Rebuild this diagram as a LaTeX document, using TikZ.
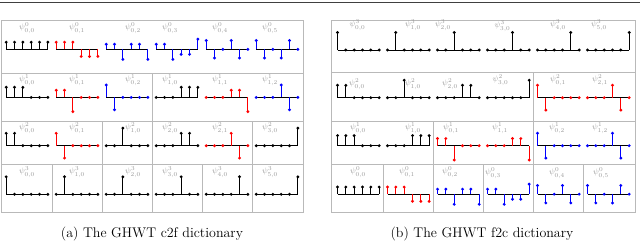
\documentclass[tikz,border=0pt]{standalone}
\usepackage{amsmath}
\tikzset{
  gridln/.style={draw=gray!55, line width=1pt},
  topln/.style={draw=black!75, line width=1pt},
  baseln/.style={line width=1pt, draw=black},
  stemln/.style={line width=0.85pt},
  fnlabel/.style={text=gray!80, font=\fontsize{8}{9}\selectfont, inner sep=0pt},
  captxt/.style={font=\fontsize{14}{16}\selectfont, anchor=base, inner sep=0pt},
}
\newcommand{\stemfn}[4]{%
  \draw[baseln] (#1,#2) -- ++(41.67,0);
  \foreach \v [count=\i from 0] in {#4} {
    \draw[stemln,draw=#3] ({#1+\i*8.333},#2) -- ({#1+\i*8.333},{#2-(\v)*17.5});
    \fill[#3] ({#1+\i*8.333},{#2-(\v)*17.5}) circle[radius=1.6pt];
  }%
}
\def\sA{0.4082}\def\sB{0.8165}\def\sC{0.5774}\def\sD{0.7071}\def\sE{0.2887}
\begin{document}
\begin{tikzpicture}[x=1pt,y=-1pt]
\useasboundingbox (0,0) rectangle (640,241);
\draw[topln] (0,2) -- (640,2);
% ---------------- left panel (c2f) ----------------
\draw[gridln] (1,20) rectangle (303,212);
\draw[gridln] (1,73) -- (303,73) (1,121) -- (303,121) (1,164) -- (303,164);
\draw[gridln] (152,73) -- (152,121);
\draw[gridln] (102,121) -- (102,164) (152,121) -- (152,164) (252,121) -- (252,164);
\foreach \xx in {52,102,152,202,252} \draw[gridln] (\xx,164) -- (\xx,212);
% row 1
\stemfn{6.2}{49.3}{black}{\sA,\sA,\sA,\sA,\sA,\sA}
\stemfn{56.2}{49.3}{red}{\sA,\sA,\sA,-\sA,-\sA,-\sA}
\stemfn{106.2}{49.3}{blue}{\sE,\sE,-\sC,\sE,\sE,-\sC}
\stemfn{156.2}{49.3}{blue}{\sE,\sE,-\sC,-\sE,-\sE,\sC}
\stemfn{206.2}{49.3}{blue}{0.5,-0.5,0,0.5,-0.5,0}
\stemfn{256.2}{49.3}{blue}{0.5,-0.5,0,-0.5,0.5,0}
\node[fnlabel] (a00) at (27,28) {$\psi^{0}_{0,0}$};
\node[fnlabel] (a01) at (77,28) {$\psi^{0}_{0,1}$};
\node[fnlabel] (a02) at (133,28) {$\psi^{0}_{0,2}$};
\node[fnlabel] (a03) at (170,28) {$\psi^{0}_{0,3}$};
\node[fnlabel] (a04) at (220,28) {$\psi^{0}_{0,4}$};
\node[fnlabel] (a05) at (270,28) {$\psi^{0}_{0,5}$};
% row 2
\stemfn{6.2}{97.4}{black}{\sC,\sC,\sC,0,0,0}
\stemfn{56.2}{97.4}{red}{\sA,\sA,-\sB,0,0,0}
\stemfn{106.2}{97.4}{blue}{\sD,-\sD,0,0,0,0}
\stemfn{156.2}{97.4}{black}{0,0,0,\sC,\sC,\sC}
\stemfn{206.2}{97.4}{red}{0,0,0,\sA,\sA,-\sB}
\stemfn{256.2}{97.4}{blue}{0,0,0,\sD,-\sD,0}
\node[fnlabel] (a10) at (27,80) {$\psi^{1}_{0,0}$};
\node[fnlabel] (a11) at (77,80) {$\psi^{1}_{0,1}$};
\node[fnlabel] (a12) at (133,80) {$\psi^{1}_{0,2}$};
\node[fnlabel] (a13) at (170,80) {$\psi^{1}_{1,0}$};
\node[fnlabel] (a14) at (220,80) {$\psi^{1}_{1,1}$};
\node[fnlabel] (a15) at (270,80) {$\psi^{1}_{1,2}$};
% row 3
\stemfn{6.2}{145.7}{black}{\sD,\sD,0,0,0,0}
\stemfn{56.2}{145.7}{red}{\sD,-\sD,0,0,0,0}
\stemfn{106.2}{145.7}{black}{0,0,1,0,0,0}
\stemfn{156.2}{145.7}{black}{0,0,0,\sD,\sD,0}
\stemfn{206.2}{145.7}{red}{0,0,0,\sD,-\sD,0}
\stemfn{256.2}{145.7}{black}{0,0,0,0,0,1}
\node[fnlabel] (a20) at (27,128) {$\psi^{2}_{0,0}$};
\node[fnlabel] (a21) at (77,128) {$\psi^{2}_{0,1}$};
\node[fnlabel] (a22) at (133,128) {$\psi^{2}_{1,0}$};
\node[fnlabel] (a23) at (170,128) {$\psi^{2}_{2,0}$};
\node[fnlabel] (a24) at (220,128) {$\psi^{2}_{2,1}$};
\node[fnlabel] (a25) at (270,128) {$\psi^{2}_{3,0}$};
% row 4
\stemfn{6.2}{194.3}{black}{1,0,0,0,0,0}
\stemfn{56.2}{194.3}{black}{0,1,0,0,0,0}
\stemfn{106.2}{194.3}{black}{0,0,1,0,0,0}
\stemfn{156.2}{194.3}{black}{0,0,0,1,0,0}
\stemfn{206.2}{194.3}{black}{0,0,0,0,1,0}
\stemfn{256.2}{194.3}{black}{0,0,0,0,0,1}
\node[fnlabel] (a30) at (27,172) {$\psi^{3}_{0,0}$};
\node[fnlabel] (a31) at (77,172) {$\psi^{3}_{1,0}$};
\node[fnlabel] (a32) at (133,172) {$\psi^{3}_{2,0}$};
\node[fnlabel] (a33) at (170,172) {$\psi^{3}_{3,0}$};
\node[fnlabel] (a34) at (220,172) {$\psi^{3}_{4,0}$};
\node[fnlabel] (a35) at (270,172) {$\psi^{3}_{5,0}$};
% ---------------- right panel (f2c) ----------------
\draw[gridln] (331,20) rectangle (635,212);
\draw[gridln] (331,72.5) -- (635,72.5) (331,121) -- (635,121) (331,164) -- (635,164);
\draw[gridln] (533,72.5) -- (533,121);
\draw[gridln] (433,121) -- (433,164) (533,121) -- (533,164);
\foreach \xx in {383,433,483,533,583} \draw[gridln] (\xx,164) -- (\xx,212);
% row 1
\stemfn{337.5}{50}{black}{1,0,0,0,0,0}
\stemfn{387.5}{50}{black}{0,1,0,0,0,0}
\stemfn{437.5}{50}{black}{0,0,1,0,0,0}
\stemfn{487.5}{50}{black}{0,0,0,1,0,0}
\stemfn{537.5}{50}{black}{0,0,0,0,1,0}
\stemfn{587.5}{50}{black}{0,0,0,0,0,1}
\node[fnlabel] (b00) at (357.5,25) {$\psi^{3}_{0,0}$};
\node[fnlabel] (b01) at (413,25) {$\psi^{3}_{1,0}$};
\node[fnlabel] (b02) at (443,25) {$\psi^{3}_{2,0}$};
\node[fnlabel] (b03) at (502.5,26) {$\psi^{3}_{3,0}$};
\node[fnlabel] (b04) at (558,25) {$\psi^{3}_{4,0}$};
\node[fnlabel] (b05) at (599,25) {$\psi^{3}_{5,0}$};
% row 2
\stemfn{337.5}{97.7}{black}{\sD,\sD,0,0,0,0}
\stemfn{387.5}{97.7}{black}{0,0,1,0,0,0}
\stemfn{437.5}{97.7}{black}{0,0,0,\sD,\sD,0}
\stemfn{487.5}{97.7}{black}{0,0,0,0,0,1}
\stemfn{537.5}{97.7}{red}{\sD,-\sD,0,0,0,0}
\stemfn{587.5}{97.7}{red}{0,0,0,\sD,-\sD,0}
\node[fnlabel] (b10) at (357,84) {$\psi^{2}_{0,0}$};
\node[fnlabel] (b11) at (413,84) {$\psi^{2}_{1,0}$};
\node[fnlabel] (b12) at (450,84) {$\psi^{2}_{2,0}$};
\node[fnlabel] (b13) at (500.5,80) {$\psi^{2}_{3,0}$};
\node[fnlabel] (b14) at (558,80) {$\psi^{2}_{0,1}$};
\node[fnlabel] (b15) at (600,80) {$\psi^{2}_{2,1}$};
% row 3
\stemfn{337.5}{145.7}{black}{\sC,\sC,\sC,0,0,0}
\stemfn{387.5}{145.7}{black}{0,0,0,\sC,\sC,\sC}
\stemfn{437.5}{145.7}{red}{\sA,\sA,-\sB,0,0,0}
\stemfn{487.5}{145.7}{red}{0,0,0,\sA,\sA,-\sB}
\stemfn{537.5}{145.7}{blue}{\sD,-\sD,0,0,0,0}
\stemfn{587.5}{145.7}{blue}{0,0,0,\sD,-\sD,0}
\node[fnlabel] (b20) at (358,128) {$\psi^{1}_{0,0}$};
\node[fnlabel] (b21) at (413,128) {$\psi^{1}_{1,0}$};
\node[fnlabel] (b22) at (451,128) {$\psi^{1}_{0,1}$};
\node[fnlabel] (b23) at (500,128) {$\psi^{1}_{1,1}$};
\node[fnlabel] (b24) at (557,128) {$\psi^{1}_{0,2}$};
\node[fnlabel] (b25) at (600,128) {$\psi^{1}_{1,2}$};
% row 4
\stemfn{337.5}{194.2}{black}{\sA,\sA,\sA,\sA,\sA,\sA}
\stemfn{387.5}{194.2}{red}{\sA,\sA,\sA,-\sA,-\sA,-\sA}
\stemfn{437.5}{194.2}{blue}{\sE,\sE,-\sC,\sE,\sE,-\sC}
\stemfn{487.5}{194.2}{blue}{\sE,\sE,-\sC,-\sE,-\sE,\sC}
\stemfn{537.5}{194.2}{blue}{0.5,-0.5,0,0.5,-0.5,0}
\stemfn{587.5}{194.2}{blue}{0.5,-0.5,0,-0.5,0.5,0}
\node[fnlabel] (b30) at (358,172) {$\psi^{0}_{0,0}$};
\node[fnlabel] (b31) at (407,172) {$\psi^{0}_{0,1}$};
\node[fnlabel] (b32) at (450,172) {$\psi^{0}_{0,2}$};
\node[fnlabel] (b33) at (493,173) {$\psi^{0}_{0,3}$};
\node[fnlabel] (b34) at (557,173) {$\psi^{0}_{0,4}$};
\node[fnlabel] (b35) at (601,173) {$\psi^{0}_{0,5}$};
% captions
\node[captxt] (capa) at (152,237) {(a) The GHWT c2f dictionary};
\node[captxt] (capb) at (482,237) {(b) The GHWT f2c dictionary};
\end{tikzpicture}
\end{document}
